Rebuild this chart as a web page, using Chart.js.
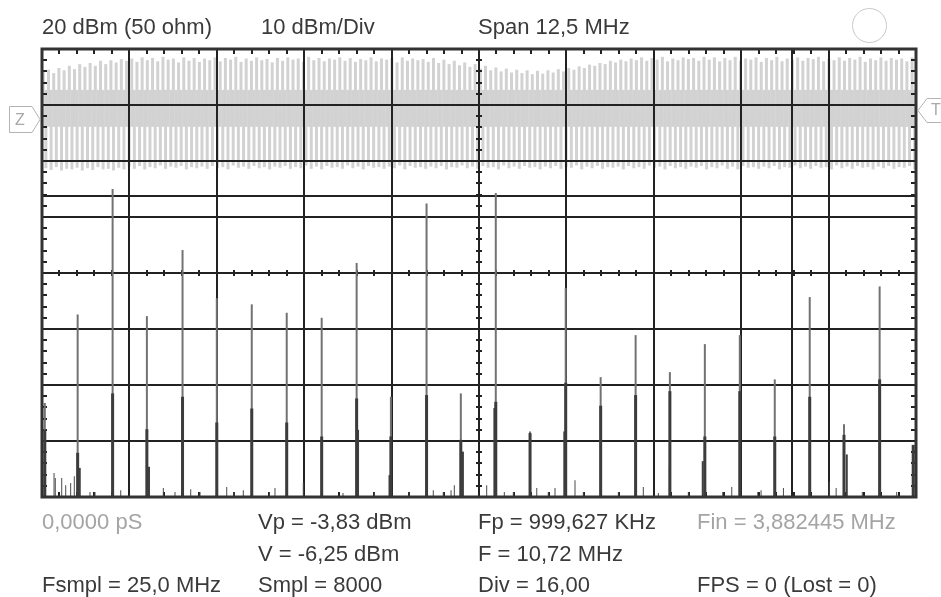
<!DOCTYPE html>
<html>
<head>
<meta charset="utf-8">
<script src="https://cdn.jsdelivr.net/npm/chart.js@4.4.0/dist/chart.umd.min.js"></script>
<style>
  html, body { margin: 0; padding: 0; background: #fff; }
  #wrap { position: relative; width: 941px; height: 597px; overflow: hidden;
          font-family: "Liberation Sans", Arial, sans-serif; font-size: 22px; color: #3a3a3a; }
  canvas { position: absolute; left: 0; top: 0; }
  .t { position: absolute; line-height: 22px; white-space: nowrap; }
  .dim { color: #a4a4a4; }
  .mk { position: absolute; font-size: 16px; line-height: 16px; color: #a8a8a8; }
  #led { position: absolute; left: 852px; top: 8px; width: 33px; height: 33px;
         border: 1px solid #c8c8c8; border-radius: 50%; }
</style>
</head>
<body>
<div id="wrap">
  <canvas id="scope" width="941" height="597"></canvas>

  <div class="t" style="left:42px;top:16px">20 dBm (50 ohm)</div>
  <div class="t" style="left:261px;top:16px">10 dBm/Div</div>
  <div class="t" style="left:478px;top:16px">Span 12,5 MHz</div>
  <div id="led"></div>

  <div class="mk" style="left:15px;top:112px">Z</div>
  <div class="mk" style="left:931px;top:102px">T</div>

  <div class="t dim" style="left:42px;top:511px">0,0000 pS</div>
  <div class="t" style="left:258px;top:511px">Vp = -3,83 dBm</div>
  <div class="t" style="left:478px;top:511px">Fp = 999,627 KHz</div>
  <div class="t dim" style="left:697px;top:511px">Fin = 3,882445 MHz</div>

  <div class="t" style="left:258px;top:543px">V = -6,25 dBm</div>
  <div class="t" style="left:478px;top:543px">F = 10,72 MHz</div>

  <div class="t" style="left:42px;top:574px">Fsmpl = 25,0 MHz</div>
  <div class="t" style="left:258px;top:574px">Smpl = 8000</div>
  <div class="t" style="left:478px;top:574px">Div = 16,00</div>
  <div class="t" style="left:697px;top:574px">FPS = 0 (Lost = 0)</div>
</div>

<script>
// screen settings
const spanMHz = 12.5;
const refLevel = 20;      // dBm, top line
const floorLevel = -60;   // dBm, bottom line
const dbPerDiv = 10;
const markerF = 10.72;    // MHz
const markerV = -6.25;    // dBm
const trigLevel = 16;     // mV on the time trace
const stripes = 168;      // trace columns on the time trace

// spectrum: main lines (MHz), line tip and body height (dBm)
const peakFreq = [0.04, 0.51, 1.01, 1.50, 2.01, 2.50, 3.00, 3.50, 4.00, 4.50, 4.99, 5.50, 5.99,
                  6.49, 6.98, 7.49, 7.99, 8.49, 8.98, 9.48, 9.98, 10.48, 10.98, 11.47, 11.98, 12.46];
const peakTop  = [-43.2, -27.4, -5.0, -27.7, -15.9, -24.5, -25.6, -27.1, -28.0, -18.2, -42.1, -7.6, -41.5,
                  -5.7, -48.3, -22.7, -38.6, -31.1, -37.7, -32.7, -31.1, -39.0, -24.3, -47.0, -22.4, -50.7];
const peakBody = [-48.0, -52.1, -41.5, -47.9, -42.1, -46.7, -44.2, -46.7, -49.2, -42.4, -49.2, -41.8, -49.8,
                  -43.0, -48.6, -39.6, -43.7, -41.8, -41.1, -49.2, -41.1, -49.2, -42.1, -48.9, -39.0, -50.7];
// side bins next to some lines
const sideFreq  = [0.54, 1.53, 4.52, 4.97, 6.02, 6.47, 7.47, 8.98, 9.45, 11.51];
const sideLevel = [-54.8, -54.6, -48.0, -56.1, -51.9, -44.1, -48.3, -54.7, -53.6, -52.4];
// small spurs on the noise floor
const spurFreq  = [0.172, 0.190, 0.282, 0.339, 0.410, 0.462, 0.686, 0.758, 1.126, 1.735, 1.902, 2.127,
                   2.260, 2.642, 2.746, 2.879, 3.251, 3.332, 3.737, 4.305, 4.752, 5.249, 5.596, 5.739,
                   5.850, 5.897, 6.360, 6.612, 6.741, 7.076, 7.241, 7.337, 7.623, 7.742, 8.243, 8.600,
                   8.815, 9.244, 9.736, 9.865, 10.237, 10.284, 10.604, 11.258, 11.358, 11.732, 12.224];
const spurLevel = [-55.7, -56.6, -56.6, -57.9, -57.5, -56.3, -59.1, -59.1, -58.8, -58.4, -59.1, -58.6,
                   -59.1, -58.2, -59.1, -58.8, -59.1, -58.4, -57.5, -59.3, -59.1, -59.1, -58.8, -59.1,
                   -58.8, -57.9, -57.9, -59.1, -59.1, -58.4, -59.1, -58.4, -57.0, -59.1, -59.1, -58.2,
                   -59.3, -59.1, -59.1, -58.2, -59.1, -58.8, -58.4, -57.3, -58.4, -59.1, -59.1];

// time trace (mV): upper stripe tips, lower stripe tips, and the dense core edges
const coreHigh = 52;
const coreLow = -14;
const traceTop = [
  84, 88, 82, 91, 87, 95, 89, 98, 93, 100, 95, 104, 98, 105, 101, 107,
  104, 108, 102, 110, 105, 109, 103, 111, 106, 108, 101, 110, 104, 109, 102, 108,
  105, 110, 103, 109, 106, 111, 102, 108, 104, 110, 105, 107, 101, 109, 104, 110,
  106, 108, 102, 111, 105, 109, 103, 108, 106, 110, 104, 109, 102, 107, 105, 110,
  103, 108, 106, 109, 101, 110, 104, 108, 105, 107, 102, 109, 100, 106, 98, 104,
  96, 101, 93, 98, 90, 95, 87, 92, 85, 90, 83, 88, 82, 87, 80, 86,
  81, 87, 83, 89, 85, 91, 88, 94, 91, 97, 95, 100, 98, 104, 101, 106,
  103, 108, 105, 110, 104, 109, 106, 111, 103, 108, 105, 110, 107, 109, 104, 111,
  106, 110, 103, 109, 105, 111, 104, 108, 106, 110, 102, 109, 105, 111, 103, 108,
  106, 110, 104, 109, 107, 111, 103, 108, 105, 110, 104, 109, 106, 111, 102, 108,
  105, 110, 104, 109, 106, 108, 103, 110];
const traceBottom = [
  -88, -91, -86, -92, -89, -90, -87, -92, -88, -91, -86, -90, -89, -92, -87, -90,
  -85, -89, -84, -90, -86, -88, -83, -89, -85, -87, -84, -90, -86, -88, -85, -89,
  -84, -88, -86, -90, -83, -87, -85, -89, -84, -88, -86, -90, -85, -87, -84, -89,
  -86, -88, -83, -89, -85, -90, -84, -87, -86, -89, -83, -88, -85, -90, -84, -87,
  -86, -89, -85, -88, -83, -90, -84, -87, -86, -89, -85, -88, -84, -90, -86, -87,
  -83, -88, -85, -89, -84, -87, -86, -90, -83, -88, -85, -89, -84, -87, -86, -90,
  -85, -88, -84, -89, -86, -87, -83, -90, -85, -88, -84, -89, -86, -87, -85, -90,
  -84, -88, -86, -89, -83, -87, -85, -90, -84, -88, -86, -89, -85, -87, -84, -90,
  -86, -88, -83, -89, -85, -90, -84, -87, -86, -89, -85, -88, -84, -90, -86, -87,
  -83, -88, -85, -89, -84, -87, -86, -90, -83, -88, -85, -89, -84, -87, -86, -90,
  -85, -88, -84, -89, -86, -87, -84, -90];

const ink = '#222';

function bars(label, xs, ys, color, width, order, axes) {
  return {
    label,
    data: xs.map((x, i) => ({ x, y: ys[i] })),
    backgroundColor: color,
    barThickness: width,
    grouped: false,
    inflateAmount: 0,
    order,
    xAxisID: axes ? axes[0] : 'x',
    yAxisID: axes ? axes[1] : 'y'
  };
}

const idx = traceTop.map((v, i) => i);

const graticule = {
  id: 'graticule',
  afterDatasetDraw(chart, args) {
    // grid goes over the time trace but under the spectrum
    if (args.index !== 1) return;
    const { ctx, chartArea: a, scales: { x, y } } = chart;
    x.drawGrid(a);
    y.drawGrid(a);
    ctx.save();
    ctx.strokeStyle = ink;
    ctx.lineWidth = 2;
    ctx.beginPath();
    const mx = Math.round(x.getPixelForValue(markerF));
    const my = Math.round(y.getPixelForValue(markerV));
    ctx.moveTo(mx, a.top); ctx.lineTo(mx, a.bottom);
    ctx.moveTo(a.left, my); ctx.lineTo(a.right, my);
    const cx = Math.round(x.getPixelForValue(spanMHz / 2));
    const cy = Math.round(y.getPixelForValue((refLevel + floorLevel) / 2));
    for (let k = 1; k < 50; k++) {
      const px = Math.round(x.getPixelForValue(spanMHz * k / 50));
      ctx.moveTo(px, a.top); ctx.lineTo(px, a.top + 5);
      ctx.moveTo(px, a.bottom); ctx.lineTo(px, a.bottom - 5);
      ctx.moveTo(px, cy - 3); ctx.lineTo(px, cy + 3);
    }
    const steps = (refLevel - floorLevel) / dbPerDiv * 5;
    for (let k = 1; k < steps; k++) {
      const py = Math.round(y.getPixelForValue(floorLevel + dbPerDiv / 5 * k));
      ctx.moveTo(a.left, py); ctx.lineTo(a.left + 5, py);
      ctx.moveTo(a.right, py); ctx.lineTo(a.right - 5, py);
      ctx.moveTo(cx - 3, py); ctx.lineTo(cx + 3, py);
    }
    ctx.stroke();
    ctx.restore();
  },
  afterDraw(chart) {
    const { ctx, chartArea: a, scales: { yv } } = chart;
    ctx.save();
    ctx.strokeStyle = '#333';
    ctx.lineWidth = 3;
    ctx.strokeRect(a.left, a.top, a.right - a.left, a.bottom - a.top);
    // zero (Z) and trigger (T) flags
    ctx.strokeStyle = '#b4b4b4';
    ctx.lineWidth = 1;
    const z = Math.round(yv.getPixelForValue(0)) + 0.5;
    ctx.beginPath();
    ctx.moveTo(a.left - 2, z);
    ctx.lineTo(a.left - 10, z - 13);
    ctx.lineTo(9.5, z - 13);
    ctx.lineTo(9.5, z + 13);
    ctx.lineTo(a.left - 10, z + 13);
    ctx.closePath();
    const t = Math.round(yv.getPixelForValue(trigLevel)) + 0.5;
    ctx.moveTo(a.right + 2, t);
    ctx.lineTo(a.right + 11, t - 12);
    ctx.lineTo(a.right + 40, t - 12);
    ctx.moveTo(a.right + 2, t);
    ctx.lineTo(a.right + 11, t + 12);
    ctx.lineTo(a.right + 40, t + 12);
    ctx.stroke();
    ctx.restore();
  }
};

new Chart(document.getElementById('scope'), {
  type: 'bar',
  data: {
    datasets: [
      bars('trace upper', idx.map(i => i + 0.25), traceTop.map(v => [coreLow, v]), '#d2d2d2', 3, 10, ['xt', 'yv']),
      bars('trace lower', idx.map(i => i + 0.75), traceBottom.map(v => [v, coreHigh]), '#d2d2d2', 3, 9, ['xt', 'yv']),
      bars('spurs', spurFreq, spurLevel.map(v => [floorLevel, v]), '#4a4a4a', 1, 4),
      bars('lines', peakFreq, peakTop.map(v => [floorLevel, v]), '#727272', 2, 3),
      bars('side bins', sideFreq, sideLevel.map(v => [floorLevel, v]), '#404040', 2, 2),
      bars('line bodies', peakFreq, peakBody.map(v => [floorLevel, v]), '#3c3c3c', 3, 1)
    ]
  },
  options: {
    responsive: false,
    animation: false,
    events: [],
    layout: { padding: { left: 42, right: 25, top: 49, bottom: 100 } },
    plugins: { legend: { display: false }, tooltip: { enabled: false } },
    scales: {
      x: {
        type: 'linear', min: 0, max: spanMHz, offset: false,
        ticks: { display: false, stepSize: spanMHz / 10 },
        grid: { color: ink, lineWidth: 2, drawTicks: false, offset: false },
        border: { display: false }
      },
      y: {
        type: 'linear', min: floorLevel, max: refLevel,
        ticks: { display: false, stepSize: dbPerDiv },
        grid: { color: ink, lineWidth: 2, drawTicks: false },
        border: { display: false }
      },
      xt: { type: 'linear', display: false, min: 0, max: stripes, offset: false },
      yv: { type: 'linear', display: false, min: -675, max: 125 }
    }
  },
  plugins: [graticule]
});
</script>
</body>
</html>
